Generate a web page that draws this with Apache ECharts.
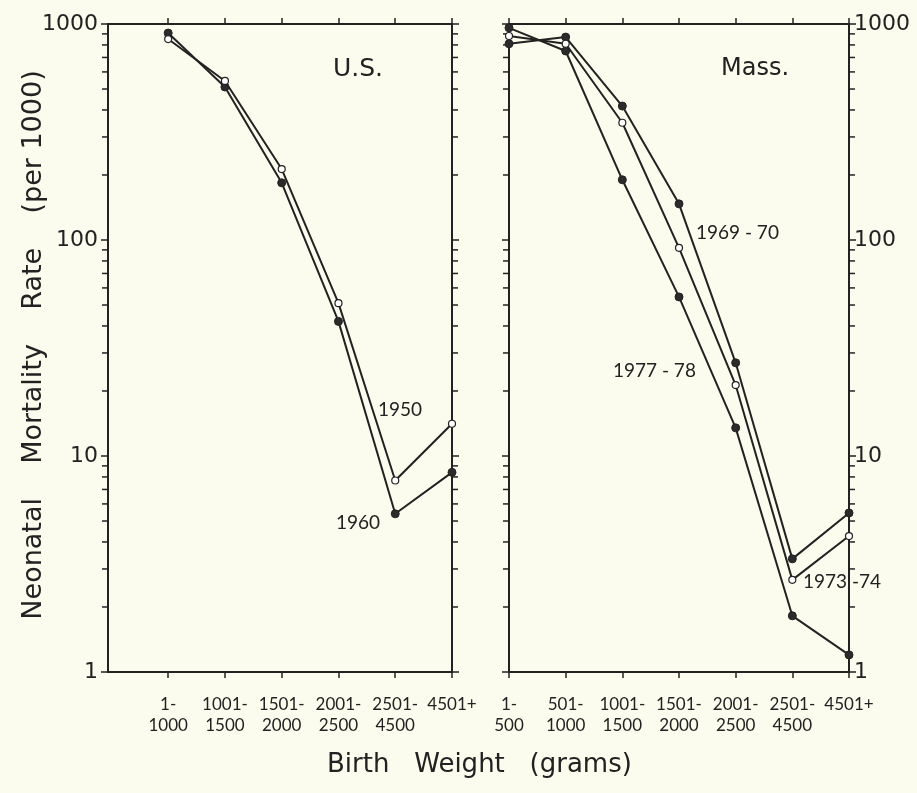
<!DOCTYPE html>
<html>
<head>
<meta charset="utf-8">
<script src="https://cdn.jsdelivr.net/npm/echarts@6/dist/echarts.min.js"></script>
<style>
  html, body { margin: 0; padding: 0; background: #fbfbee; }
  #chart { width: 917px; height: 793px; }
</style>
</head>
<body>
<div id="chart"></div>
<script>
// birth weight groups (grams)
const usCategories = ['1-\n1000', '1001-\n1500', '1501-\n2000', '2001-\n2500', '2501-\n4500', '4501+'];
const massCategories = ['1-\n500', '501-\n1000', '1001-\n1500', '1501-\n2000', '2001-\n2500', '2501-\n4500', '4501+'];

// neonatal mortality rate per 1000
const us1950 = [852, 545, 213, 51, 7.7, 14.1];
const us1960 = [908, 511, 184, 42, 5.4, 8.4];
const mass1969 = [810, 870, 417, 147, 27, 3.34, 5.45];
const mass1973 = [880, 810, 349, 92, 21.3, 2.67, 4.26];
const mass1977 = [960, 750, 190, 54.5, 13.5, 1.82, 1.2];

const yLabels = [1, 10, 100, 1000];
const minorTicks = [2, 3, 4, 5, 6, 7, 8, 9, 20, 30, 40, 50, 60, 70, 80, 90, 200, 300, 400, 500, 600, 700, 800, 900];

const ink = '#222222';
const font = 'Lato, "Liberation Sans", sans-serif';
const wide = '"DejaVu Sans", sans-serif';

const usMin = -1.06, usMax = 5;
const massMin = 0, massMax = 6;

const toPairs = arr => arr.map((v, i) => [i, v]);

function xAxisPair (gridIndex, min, max, cats, ticks) {
  const base = {
    type: 'value',
    gridIndex: gridIndex,
    min: min,
    max: max,
    splitLine: { show: false },
    axisLine: { show: true, onZero: false, lineStyle: { color: ink, width: 2 } },
    axisTick: { show: true, length: 6, lineStyle: { color: ink, width: 1.5 }, customValues: ticks }
  };
  return [
    Object.assign({}, base, {
      position: 'bottom',
      axisLabel: {
        show: true,
        customValues: cats.map((c, i) => i),
        formatter: v => cats[Math.round(v)] || '',
        color: ink,
        fontFamily: font,
        fontSize: 17,
        lineHeight: 21,
        margin: 22
      }
    }),
    Object.assign({}, base, { position: 'top', axisLabel: { show: false } })
  ];
}

function yAxisPair (gridIndex, labelSide) {
  const base = {
    type: 'log',
    logBase: 10,
    gridIndex: gridIndex,
    min: 1,
    max: 1000,
    splitLine: { show: false },
    axisLine: { show: true, onZero: false, lineStyle: { color: ink, width: 2 } },
    axisTick: { show: true, length: 7, lineStyle: { color: ink, width: 1.5 }, customValues: yLabels }
  };
  const lab = {
    show: true,
    customValues: yLabels,
    formatter: v => String(Math.round(v)),
    color: ink,
    fontFamily: wide,
    fontSize: 22,
    margin: labelSide === 'left' ? 10 : 5
  };
  return [
    Object.assign({}, base, { position: 'left', axisLabel: labelSide === 'left' ? lab : { show: false } }),
    Object.assign({}, base, { position: 'right', axisLabel: labelSide === 'right' ? lab : { show: false } })
  ];
}

// short tick marks at 2..9 of each decade on both sides of a panel
function minorTickSeries (xIdx, yIdx, xmin, xmax) {
  return {
    type: 'custom',
    xAxisIndex: xIdx,
    yAxisIndex: yIdx,
    silent: true,
    clip: false,
    data: minorTicks.map(v => [xmin, v]),
    renderItem (params, api) {
      const v = api.value(1);
      const l = api.coord([xmin, v]);
      const r = api.coord([xmax, v]);
      const st = { stroke: ink, lineWidth: 1.5 };
      return {
        type: 'group',
        children: [
          { type: 'line', shape: { x1: l[0] - 6, y1: l[1], x2: l[0], y2: l[1] }, style: st },
          { type: 'line', shape: { x1: r[0], y1: r[1], x2: r[0] + 6, y2: r[1] }, style: st }
        ]
      };
    }
  };
}

function lineSeries (name, data, xIdx, yIdx, open) {
  return {
    name: name,
    type: 'line',
    xAxisIndex: xIdx,
    yAxisIndex: yIdx,
    data: toPairs(data),
    symbol: 'circle',
    symbolSize: open ? 7 : 8,
    showAllSymbol: true,
    clip: false,
    lineStyle: { color: ink, width: 2 },
    itemStyle: open
      ? { color: '#ffffff', borderColor: ink, borderWidth: 1.2 }
      : { color: '#2b2b2b', borderColor: ink, borderWidth: 1 },
    z: open ? 3 : 2
  };
}

const textStyle = (txt, size, fam) => ({ text: txt, fill: ink, font: `${size}px ${fam || font}` });

const chart = echarts.init(document.getElementById('chart'));
chart.setOption({
  backgroundColor: '#fbfbee',
  animation: false,
  grid: [
    { left: 108, top: 24, width: 344, height: 648 },
    { left: 509, top: 24, width: 340, height: 648 }
  ],
  xAxis: [
    ...xAxisPair(0, usMin, usMax, usCategories, [0, 1, 2, 3, 4, 5]),
    ...xAxisPair(1, massMin, massMax, massCategories, [0, 1, 2, 3, 4, 5, 6])
  ],
  yAxis: [
    ...yAxisPair(0, 'left'),
    ...yAxisPair(1, 'right')
  ],
  series: [
    minorTickSeries(0, 0, usMin, usMax),
    minorTickSeries(2, 2, massMin, massMax),
    lineSeries('1950', us1950, 0, 0, true),
    lineSeries('1960', us1960, 0, 0, false),
    lineSeries('1969-70', mass1969, 2, 2, false),
    lineSeries('1973-74', mass1973, 2, 2, true),
    lineSeries('1977-78', mass1977, 2, 2, false)
  ],
  graphic: [
    { type: 'text', left: 333, top: 57, style: textStyle('U.S.', 25, wide) },
    { type: 'text', left: 721, top: 57, style: textStyle('Mass.', 24, wide) },
    { type: 'text', left: 378, top: 400, style: textStyle('1950', 19) },
    { type: 'text', left: 336, top: 513, style: textStyle('1960', 19) },
    { type: 'text', left: 696, top: 223, style: textStyle('1969 - 70', 19) },
    { type: 'text', left: 613, top: 361, style: textStyle('1977 - 78', 19) },
    { type: 'text', left: 803, top: 572, style: textStyle('1973 -74', 19) },
    { type: 'text', left: 327, top: 752, style: textStyle('Birth   Weight   (grams)', 26, wide) },
    {
      type: 'text',
      x: 34,
      y: 345,
      rotation: Math.PI / 2,
      style: Object.assign(textStyle('Neonatal    Mortality    Rate    (per 1000)', 27, wide), {
        align: 'center',
        verticalAlign: 'middle'
      })
    }
  ]
});
</script>
</body>
</html>
